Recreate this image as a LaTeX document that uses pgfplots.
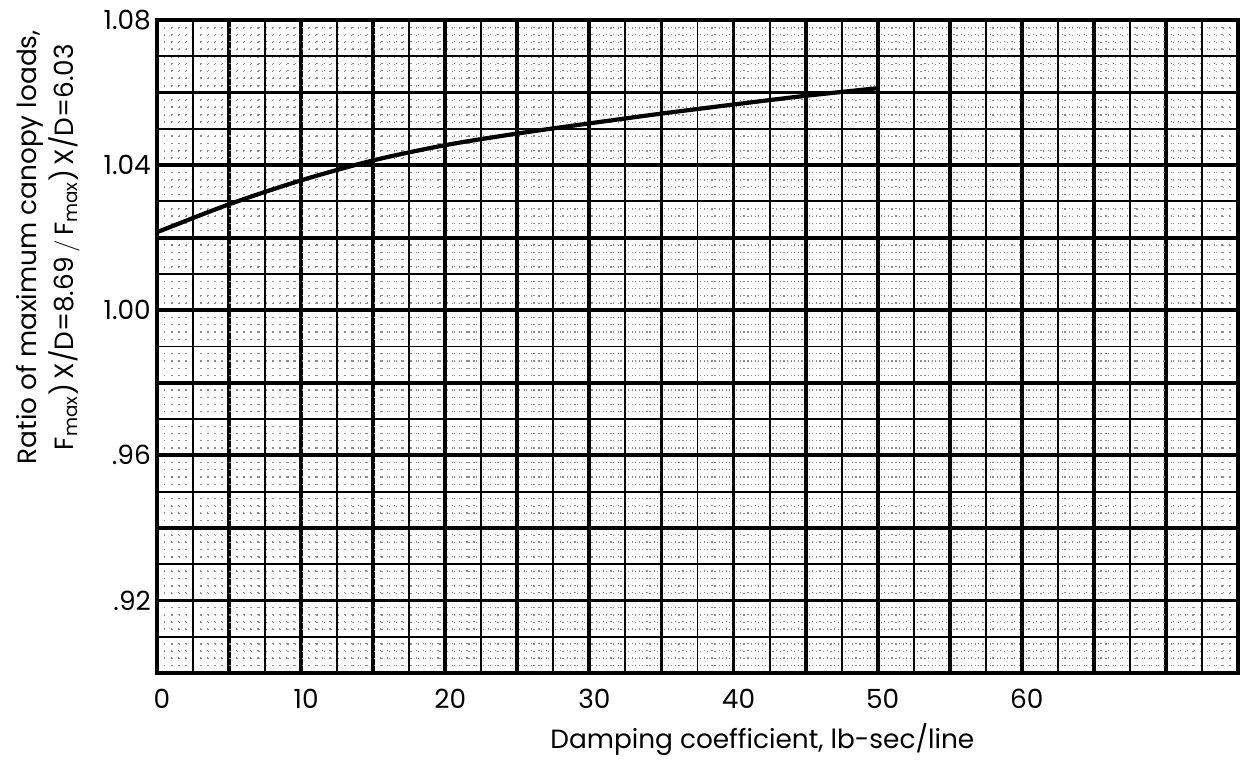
\documentclass[border=0pt]{standalone}
\usepackage{fontspec}
\setmainfont{Poppins}
\usepackage{pgfplots}
\pgfplotsset{compat=1.18}
\usetikzlibrary{calc}

\begin{document}
\begin{tikzpicture}
\begin{axis}[
  name=ax,
  scale only axis,
  width=21.62cm, height=13.06cm,
  xmin=0, xmax=75, ymin=0.90, ymax=1.08,
  clip=false,
  axis line style={line width=2.4pt},
  xtick={0,5,...,75},
  xticklabels={0,,10,,20,,30,,40,,50,,60,,,},
  ytick={0.90,0.92,0.94,0.96,0.98,1.00,1.02,1.04,1.06,1.08},
  yticklabels={,.92,,.96,,1.00,,1.04,,1.08},
  minor xtick={0,0.5,...,75},
  minor ytick={0.90,0.902,...,1.08},
  extra x ticks={2.5,7.5,...,72.5},
  extra y ticks={0.91,0.93,0.95,0.97,0.99,1.01,1.03,1.05,1.07},
  extra x tick labels={}, extra y tick labels={},
  extra tick style={grid=major, major grid style={black, line width=1.1pt}},
  grid=both,
  major grid style={black, line width=2.2pt},
  minor grid style={black!45, line width=0.7pt, dash pattern=on 0.7pt off 3.42pt},
  major tick length=0pt, minor tick length=0pt,
  ticklabel style={font=\fontsize{15}{18}\selectfont},
  xticklabel style={yshift=-0.2cm, xshift=0.1cm},
]
\addplot[black, line width=2.4pt, smooth] coordinates {
  (0,1.0215) (5,1.0292) (10,1.0358) (15,1.0413) (20,1.0455) (25,1.0487)
  (30,1.0515) (35,1.0542) (40,1.0567) (45,1.0591) (50,1.0612)
};
\node[rotate=90, align=center, font=\fontsize{15}{21}\selectfont] at (axis cs:-7.56,1.0174)
  {Ratio of maximum canopy loads,\\
   F\textsubscript{max})\,X/D=8.69\,\big/\,F\textsubscript{max})\,X/D=6.03};
\node[font=\fontsize{15}{18}\selectfont] at (axis cs:42,0.8815)
  {Damping coefficient, lb-sec/line};
\end{axis}
\pgfresetboundingbox
\useasboundingbox ($(ax.south west)+(-3.14cm,-1.90cm)$) rectangle ($(ax.south west)+(21.78cm,13.46cm)$);
\end{tikzpicture}
\end{document}
